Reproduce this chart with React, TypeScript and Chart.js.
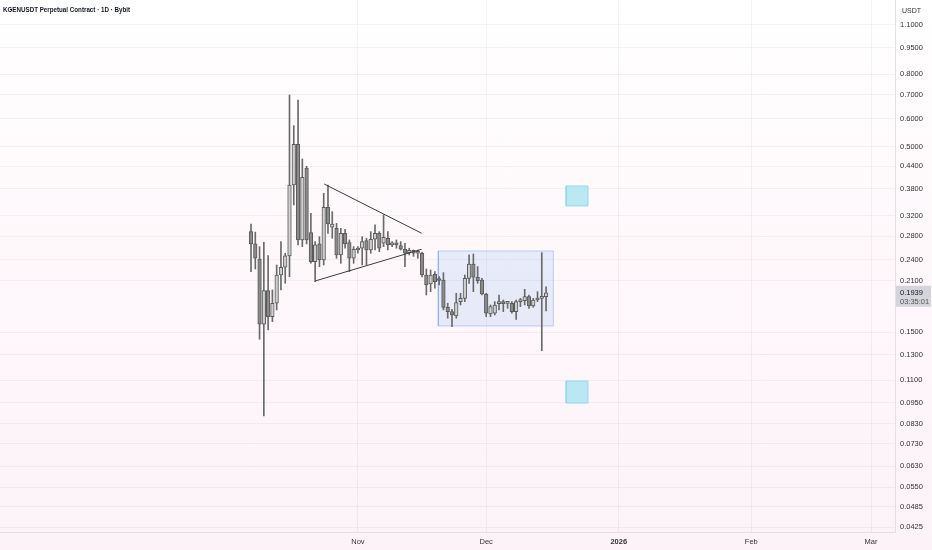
import React, { useEffect, useRef } from "react";
import { Chart, registerables } from "chart.js";

Chart.register(...registerables);

// ---------- data ----------
const TITLE = "KGENUSDT Perpetual Contract · 1D · Bybit";
const CURRENCY = "USDT";
const START_DATE = "2025-10-07"; // date of the first daily candle
const COUNTDOWN = "03:35:01";

const OPEN = [
  0.2881, 0.2661, 0.2414, 0.1581, 0.1966, 0.1661, 0.1812, 0.2176, 0.2288, 0.2462,
  0.39, 0.5077, 0.2731, 0.4354, 0.2863, 0.2372, 0.2661, 0.2398, 0.3375, 0.2965,
  0.2945, 0.2478, 0.2852, 0.2683, 0.2425, 0.2559, 0.2588, 0.2719, 0.2559, 0.2743,
  0.2852, 0.2673, 0.2761, 0.2644, 0.2655, 0.2633, 0.2571, 0.2515, 0.2553, 0.2505,
  0.2505, 0.2176, 0.2053, 0.2186, 0.2107, 0.2107, 0.1765, 0.1716, 0.1668, 0.1831,
  0.1871, 0.213, 0.2337, 0.2144, 0.2107, 0.1924, 0.169, 0.1698, 0.1808, 0.1812,
  0.181, 0.1812, 0.1716, 0.1831, 0.1842, 0.1891, 0.178, 0.1851, 0.1871, 0.1891,
];
const HIGH = [
  0.3029, 0.2873, 0.2615, 0.269, 0.2467, 0.1975, 0.2322, 0.2701, 0.2505, 0.6988,
  0.5728, 0.6765, 0.4616, 0.44, 0.3247, 0.2701, 0.2789, 0.3696, 0.39, 0.328,
  0.304, 0.2945, 0.2925, 0.2731, 0.2615, 0.2615, 0.2789, 0.2761, 0.2881, 0.301,
  0.2881, 0.3211, 0.2881, 0.2701, 0.2731, 0.2701, 0.2673, 0.2588, 0.2559, 0.2559,
  0.2525, 0.2263, 0.2248, 0.2223, 0.2153, 0.2209, 0.1812, 0.1742, 0.1933, 0.1933,
  0.2176, 0.2478, 0.2494, 0.2297, 0.213, 0.1933, 0.1792, 0.1831, 0.1912, 0.1851,
  0.1831, 0.1831, 0.1851, 0.1871, 0.1984, 0.1912, 0.1871, 0.1953, 0.2515, 0.2017,
];
const LOW = [
  0.2223, 0.2263, 0.1435, 0.0873, 0.1524, 0.1608, 0.1735, 0.1975, 0.2062, 0.2153,
  0.3426, 0.2644, 0.2615, 0.266, 0.2348, 0.2084, 0.2297, 0.2322, 0.285, 0.2761,
  0.2425, 0.2348, 0.2588, 0.2223, 0.2348, 0.2505, 0.2322, 0.2322, 0.2505, 0.2559,
  0.2531, 0.2615, 0.2559, 0.2615, 0.2588, 0.2559, 0.2297, 0.2478, 0.2455, 0.2425,
  0.2148, 0.1912, 0.1953, 0.1997, 0.204, 0.1735, 0.1644, 0.1557, 0.1644, 0.1792,
  0.1831, 0.2062, 0.1953, 0.2062, 0.1912, 0.1661, 0.1661, 0.1679, 0.1735, 0.1716,
  0.1753, 0.1698, 0.1633, 0.1772, 0.1792, 0.1753, 0.1765, 0.1831, 0.1332, 0.1723,
];
const CLOSE = [
  0.2661, 0.2425, 0.1581, 0.1966, 0.1661, 0.1812, 0.2176, 0.2288, 0.2462, 0.39,
  0.5077, 0.2731, 0.41, 0.2731, 0.2372, 0.2644, 0.2398, 0.3375, 0.3029, 0.3029,
  0.2478, 0.2852, 0.2661, 0.2425, 0.2571, 0.2588, 0.2701, 0.2559, 0.2743, 0.2852,
  0.2588, 0.2779, 0.2644, 0.2655, 0.2644, 0.2571, 0.2505, 0.2553, 0.2505, 0.2531,
  0.2176, 0.204, 0.2176, 0.2084, 0.21, 0.1765, 0.1716, 0.1679, 0.1819, 0.1871,
  0.213, 0.2337, 0.2144, 0.2098, 0.1924, 0.1698, 0.1772, 0.1792, 0.1815, 0.1808,
  0.1813, 0.1716, 0.1831, 0.1842, 0.1891, 0.178, 0.1851, 0.1871, 0.1891, 0.1939,
];

// price axis labels
const PRICE_TICKS = [
  1.1, 0.95, 0.8, 0.7, 0.6, 0.5, 0.44, 0.38, 0.32, 0.28, 0.24, 0.21,
  0.15, 0.13, 0.11, 0.095, 0.083, 0.073, 0.063, 0.055, 0.0485, 0.0425,
];
// time axis labels
const MONTH_DATES = ["2025-11-01", "2025-12-01", "2026-01-01", "2026-02-01", "2026-03-01"];
const MONTH_LABELS = ["Nov", "Dec", "2026", "Feb", "Mar"];

// drawings (x in days after START_DATE, y in price)
const TRI_UPPER_DAYS = [17.1, 39.9];
const TRI_UPPER_PRICES = [0.3925, 0.2852];
const TRI_LOWER_DAYS = [15.0, 39.9];
const TRI_LOWER_PRICES = [0.2093, 0.2571];
const RANGE_BOX_DAYS = [43.8, 70.7];
const RANGE_BOX_PRICES = [0.1564, 0.2543];
const TARGET_DAYS = [73.7, 78.8];
const TARGET_UP_PRICES = [0.3404, 0.3875];
const TARGET_DOWN_PRICES = [0.0949, 0.1095];

// visible window
const X_MIN_DAY = -58.7;
const X_MAX_DAY = 150.6;
const Y_MIN = 0.04115;
const Y_MAX = 1.293;

// ---------- helpers ----------
const DAY_MS = 86400000;
const dayOf = (iso: string) =>
  Math.round((Date.parse(iso + "T00:00:00Z") - Date.parse(START_DATE + "T00:00:00Z")) / DAY_MS);

const boxPoints = (days: number[], prices: number[]) => [
  { x: days[0], y: prices[0] },
  { x: days[1], y: prices[0] },
  { x: days[1], y: prices[1] },
  { x: days[0], y: prices[1] },
  { x: days[0], y: prices[0] },
];

const FONT = '"Liberation Sans", Arial, sans-serif';

export default function App() {
  const canvasRef = useRef<HTMLCanvasElement | null>(null);

  useEffect(() => {
    document.body.style.margin = "0";
    const canvas = canvasRef.current;
    if (!canvas) return;

    const up = CLOSE.map((c, i) => c >= OPEN[i]);
    const monthDays = MONTH_DATES.map(dayOf);
    const lastPrice = CLOSE[CLOSE.length - 1];

    const overlay = {
      id: "overlay",
      afterDraw(chart: any) {
        const ctx = chart.ctx;
        const ys = chart.scales.y;
        ctx.save();
        // title
        ctx.font = `600 7px ${FONT}`;
        ctx.fillStyle = "#131722";
        ctx.textBaseline = "middle";
        ctx.textAlign = "left";
        ctx.fillText(TITLE, 3, 10, 127);
        // currency
        ctx.font = `7px ${FONT}`;
        ctx.fillStyle = "#333";
        ctx.fillText(CURRENCY, 902, 11);
        // last price tag
        const py = ys.getPixelForValue(lastPrice);
        const left = ys.left + 1;
        ctx.fillStyle = "#d3d5da";
        ctx.fillRect(left, py - 7, chart.width - left - 1, 21);
        ctx.fillStyle = "#131722";
        ctx.font = `7.5px ${FONT}`;
        ctx.fillText(lastPrice.toFixed(4), 900, py);
        ctx.fillStyle = "#555";
        ctx.fillText(COUNTDOWN, 900, py + 9);
        ctx.restore();
      },
    };

    const gridColor = "rgba(110,80,100,0.07)";

    const chart = new Chart(canvas, {
      type: "bar",
      data: {
        datasets: [
          {
            type: "line",
            label: "range",
            data: boxPoints(RANGE_BOX_DAYS, RANGE_BOX_PRICES),
            borderColor: "rgba(110,160,240,0.45)",
            borderWidth: 1,
            backgroundColor: "rgba(120,165,245,0.16)",
            fill: "shape",
            pointRadius: 0,
            tension: 0,
            order: 10,
          } as any,
          {
            type: "line",
            label: "target up",
            data: boxPoints(TARGET_DAYS, TARGET_UP_PRICES),
            borderColor: "rgba(140,215,232,0.9)",
            borderWidth: 1,
            backgroundColor: "rgba(170,228,240,0.8)",
            fill: "shape",
            pointRadius: 0,
            tension: 0,
            order: 10,
          } as any,
          {
            type: "line",
            label: "target down",
            data: boxPoints(TARGET_DAYS, TARGET_DOWN_PRICES),
            borderColor: "rgba(140,215,232,0.9)",
            borderWidth: 1,
            backgroundColor: "rgba(170,228,240,0.8)",
            fill: "shape",
            pointRadius: 0,
            tension: 0,
            order: 10,
          } as any,
          {
            type: "bar",
            label: "wick",
            data: HIGH.map((h, i) => ({ x: i, y: [LOW[i], h] })),
            backgroundColor: "#6a6a6a",
            barThickness: 1,
            grouped: false,
            order: 3,
          } as any,
          {
            type: "bar",
            label: "body",
            data: OPEN.map((o, i) => ({ x: i, y: [o, CLOSE[i]] })),
            backgroundColor: up.map((u) => (u ? "#cfcfcf" : "#8a8a8a")),
            borderColor: "#5a5a5a",
            borderWidth: 1,
            borderSkipped: false,
            barThickness: 3.6,
            minBarLength: 2,
            grouped: false,
            order: 2,
          } as any,
          {
            type: "line",
            label: "upper",
            data: TRI_UPPER_DAYS.map((d, i) => ({ x: d, y: TRI_UPPER_PRICES[i] })),
            borderColor: "#3c3c3c",
            borderWidth: 1,
            pointRadius: 0,
            fill: false,
            order: 0,
          } as any,
          {
            type: "line",
            label: "lower",
            data: TRI_LOWER_DAYS.map((d, i) => ({ x: d, y: TRI_LOWER_PRICES[i] })),
            borderColor: "#3c3c3c",
            borderWidth: 1,
            pointRadius: 0,
            fill: false,
            order: 0,
          } as any,
        ],
      },
      options: {
        animation: false,
        responsive: false,
        events: [],
        layout: { padding: 0 },
        plugins: {
          legend: { display: false },
          tooltip: { enabled: false },
          title: { display: false },
        },
        scales: {
          x: {
            type: "linear",
            min: X_MIN_DAY,
            max: X_MAX_DAY,
            offset: false,
            position: "bottom",
            afterBuildTicks: (axis: any) => {
              axis.ticks = monthDays.map((v) => ({ value: v }));
            },
            afterFit: (axis: any) => {
              axis.height = 18;
              axis.paddingLeft = 0;
              axis.paddingRight = 0;
            },
            grid: { color: gridColor, drawTicks: false, offset: false },
            border: { display: true, color: "#e4dfe3" },
            ticks: {
              padding: 5,
              maxRotation: 0,
              autoSkip: false,
              color: "#333",
              font: (ctx: any) => ({
                family: FONT,
                size: 7.5,
                weight: ctx.tick && ctx.tick.label === "2026" ? "bold" : "normal",
              }),
              callback: (v: any) => {
                const k = monthDays.indexOf(Math.round(Number(v)));
                return k >= 0 ? MONTH_LABELS[k] : "";
              },
            },
          } as any,
          y: {
            type: "logarithmic",
            position: "right",
            min: Y_MIN,
            max: Y_MAX,
            afterBuildTicks: (axis: any) => {
              axis.ticks = PRICE_TICKS.map((v) => ({ value: v }));
            },
            afterFit: (axis: any) => {
              axis.width = 37;
              axis.paddingTop = 0;
              axis.paddingBottom = 0;
            },
            grid: { color: gridColor, drawTicks: false },
            border: { display: true, color: "#e4dfe3" },
            ticks: {
              padding: 5,
              autoSkip: false,
              color: "#333",
              font: { family: FONT, size: 7.5 },
              callback: (v: any) => Number(v).toFixed(4),
            },
          } as any,
        },
      } as any,
      plugins: [overlay],
    });

    return () => chart.destroy();
  }, []);

  return (
    <div
      style={{
        width: 932,
        height: 550,
        background: "linear-gradient(to bottom, #ffffff 0%, #fef8fb 45%, #fcf2f8 100%)",
      }}
    >
      <canvas ref={canvasRef} width={932} height={550} style={{ display: "block" }} />
    </div>
  );
}
